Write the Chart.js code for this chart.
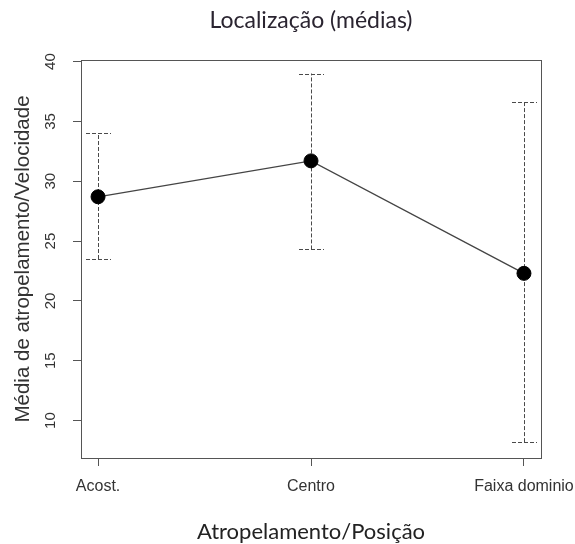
<!DOCTYPE html>
<html>
<head>
<meta charset="utf-8">
<script src="https://cdn.jsdelivr.net/npm/chart.js@4/dist/chart.umd.min.js"></script>
<style>
  html,body{margin:0;padding:0;background:#fff;}
  canvas{display:block;}
</style>
</head>
<body>
<canvas id="c" width="575" height="544"></canvas>
<script>
// data
const categories = ['Acost.', 'Centro', 'Faixa dominio'];
const means = [28.7, 31.7, 22.3];
const lower = [23.5, 24.3, 8.2];
const upper = [34.0, 39.0, 36.6];
const yTicks = [10, 15, 20, 25, 30, 35, 40];

const AXIS = '#555';
const TXT = '#333';

// R style box round the plot + dashed error bars
const rPlot = {
  id: 'rPlot',
  beforeDatasetsDraw(chart) {
    const {ctx, chartArea: a, scales: {x, y}} = chart;
    ctx.save();
    ctx.strokeStyle = AXIS;
    ctx.lineWidth = 1;
    ctx.strokeRect(a.left + 0.5, a.top + 0.5, a.right - a.left, a.bottom - a.top);
    ctx.setLineDash([4, 2]);
    ctx.strokeStyle = '#4a4a4a';
    categories.forEach((c, i) => {
      const px = Math.round(x.getPixelForValue(i + 1)) + 0.5;
      const lo = y.getPixelForValue(lower[i]);
      const hi = y.getPixelForValue(upper[i]);
      ctx.beginPath();
      ctx.moveTo(px, lo); ctx.lineTo(px, hi);
      ctx.moveTo(px - 12.5, Math.round(hi) + 0.5); ctx.lineTo(px + 12.5, Math.round(hi) + 0.5);
      ctx.moveTo(px - 12.5, Math.round(lo) + 0.5); ctx.lineTo(px + 12.5, Math.round(lo) + 0.5);
      ctx.stroke();
    });
    ctx.restore();
  }
};

new Chart(document.getElementById('c'), {
  type: 'line',
  data: {
    datasets: [{
      data: means.map((m, i) => ({x: i + 1, y: m})),
      borderColor: '#444',
      borderWidth: 1.3,
      pointRadius: 7,
      pointBackgroundColor: '#000',
      pointBorderColor: '#000',
      pointBorderWidth: 1,
      tension: 0
    }]
  },
  options: {
    responsive: false,
    animation: false,
    devicePixelRatio: 1,
    layout: {padding: {left: 0, right: 34, top: 0, bottom: 0}},
    plugins: {
      legend: {display: false},
      tooltip: {enabled: false},
      title: {
        display: true,
        fullSize: false,
        text: 'Localização (médias)',
        color: '#2a2430',
        font: {family: 'Lato', size: 23, weight: 'normal'},
        padding: {top: 6.7, bottom: 25.7}
      }
    },
    scales: {
      x: {
        type: 'linear',
        min: 0.92, max: 3.08,
        afterBuildTicks: s => { s.ticks = categories.map((c, i) => ({value: i + 1})); },
        afterFit: s => { s.height = 86; s.paddingLeft = 0; s.paddingRight = 0; },
        ticks: {
          color: TXT,
          font: {family: 'Liberation Sans', size: 16},
          padding: 11,
          maxRotation: 0, minRotation: 0,
          callback: v => categories[v - 1]
        },
        grid: {drawOnChartArea: false, drawTicks: true, tickLength: 8, color: AXIS},
        border: {display: true, color: AXIS},
        title: {
          display: true,
          text: 'Atropelamento/Posição',
          color: '#222',
          font: {family: 'Lato', size: 22},
          padding: {top: 0, bottom: -1}
        }
      },
      y: {
        min: 6.87, max: 40.13,
        afterBuildTicks: s => { s.ticks = yTicks.map(v => ({value: v})); },
        afterFit: s => { s.width = 81; s.paddingTop = 0; s.paddingBottom = 0; },
        ticks: {
          color: TXT,
          font: {family: 'Liberation Sans', size: 15},
          minRotation: 90, maxRotation: 90,
          crossAlign: 'center',
          padding: 14
        },
        grid: {drawOnChartArea: false, drawTicks: true, tickLength: 8, color: AXIS},
        border: {display: true, color: AXIS},
        title: {
          display: true,
          text: 'Média de atropelamento/Velocidade',
          color: TXT,
          font: {family: 'Liberation Sans', size: 20.5},
          padding: {top: 11, bottom: 0}
        }
      }
    }
  },
  plugins: [rPlot]
});
</script>
</body>
</html>
